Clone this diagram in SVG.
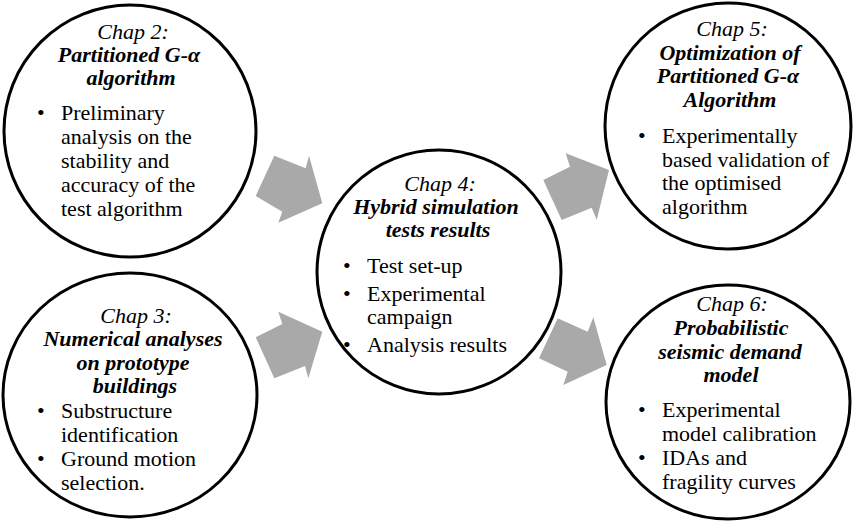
<svg xmlns="http://www.w3.org/2000/svg" width="854" height="523" viewBox="0 0 854 523">
  <style>
    .ring { fill: #ffffff; stroke: #000000; stroke-width: 3; }
    .arrow { fill: #a9a9a9; stroke: none; }
    text { font-family: "Liberation Serif", "Times New Roman", serif; font-size: 22px; fill: #000000; }
    .chap { font-style: italic; text-anchor: middle; }
    .title { font-style: italic; font-weight: bold; text-anchor: middle; }
  </style>
  <rect width="854" height="523" fill="#ffffff"/>

  <!-- block arrows between chapters -->
  <g id="connectors">
    <polygon class="arrow" points="255.7,196 274.3,155.7 305.7,168.3 309,155.7 322.3,203.3 278.3,222.7 282.3,211.7"/>
    <polygon class="arrow" points="278.3,311.7 282.3,324 255.7,337.3 274.3,378.3 305,366 308.3,378.3 322.3,331.7"/>
    <polygon class="arrow" points="565.7,153.3 570,166.7 543.3,180 561.7,220 591.7,207.7 596.7,220 609,170"/>
    <polygon class="arrow" points="557.7,318.3 587.7,331.7 593.3,317.3 606.7,365 563.3,385 567.7,371.7 539,358.3"/>
  </g>

  <!-- Chapter 2 -->
  <g id="chap2">
    <circle class="ring" cx="130" cy="131" r="126"/>
    <text class="chap" x="133" y="39">Chap 2:</text>
    <text class="title" x="129" y="62">Partitioned G-α</text>
    <text class="title" x="131" y="85">algorithm</text>
    <text x="37" y="120">•</text>
    <text x="61" y="120">Preliminary</text>
    <text x="61" y="144">analysis on the</text>
    <text x="61" y="168">stability and</text>
    <text x="61" y="192">accuracy of the</text>
    <text x="61" y="216">test algorithm</text>
  </g>

  <!-- Chapter 3 -->
  <g id="chap3">
    <ellipse class="ring" cx="130" cy="395" rx="127" ry="122"/>
    <text class="chap" x="136" y="323">Chap 3:</text>
    <text class="title" x="133" y="346">Numerical analyses</text>
    <text class="title" x="133" y="370">on prototype</text>
    <text class="title" x="135" y="393">buildings</text>
    <text x="37" y="418">•</text>
    <text x="61" y="418">Substructure</text>
    <text x="61" y="442">identification</text>
    <text x="37" y="466">•</text>
    <text x="61" y="466">Ground motion</text>
    <text x="61" y="490">selection.</text>
  </g>

  <!-- Chapter 4 -->
  <g id="chap4">
    <circle class="ring" cx="439" cy="272" r="122"/>
    <text class="chap" x="440" y="191">Chap 4:</text>
    <text class="title" x="436" y="214" font-size="23">Hybrid simulation</text>
    <text class="title" x="438" y="237" font-size="23">tests results</text>
    <text x="343" y="273">•</text>
    <text x="367" y="273">Test set-up</text>
    <text x="343" y="301">•</text>
    <text x="367" y="301">Experimental</text>
    <text x="367" y="324">campaign</text>
    <text x="343" y="352">•</text>
    <text x="367" y="352">Analysis results</text>
  </g>

  <!-- Chapter 5 -->
  <g id="chap5">
    <circle class="ring" cx="728" cy="126" r="123"/>
    <text class="chap" x="732" y="36">Chap 5:</text>
    <text class="title" x="730" y="60">Optimization of</text>
    <text class="title" x="728" y="83">Partitioned G-α</text>
    <text class="title" x="730" y="107">Algorithm</text>
    <text x="638" y="143">•</text>
    <text x="662" y="143">Experimentally</text>
    <text x="662" y="167">based validation of</text>
    <text x="662" y="190">the optimised</text>
    <text x="662" y="214">algorithm</text>
  </g>

  <!-- Chapter 6 -->
  <g id="chap6">
    <ellipse class="ring" cx="728" cy="402" rx="122" ry="117"/>
    <text class="chap" x="732" y="311">Chap 6:</text>
    <text class="title" x="731" y="335">Probabilistic</text>
    <text class="title" x="730" y="359">seismic demand</text>
    <text class="title" x="731" y="382">model</text>
    <text x="638" y="417">•</text>
    <text x="662" y="417">Experimental</text>
    <text x="662" y="441">model calibration</text>
    <text x="638" y="465">•</text>
    <text x="662" y="465">IDAs and</text>
    <text x="662" y="489">fragility curves</text>
  </g>
</svg>
